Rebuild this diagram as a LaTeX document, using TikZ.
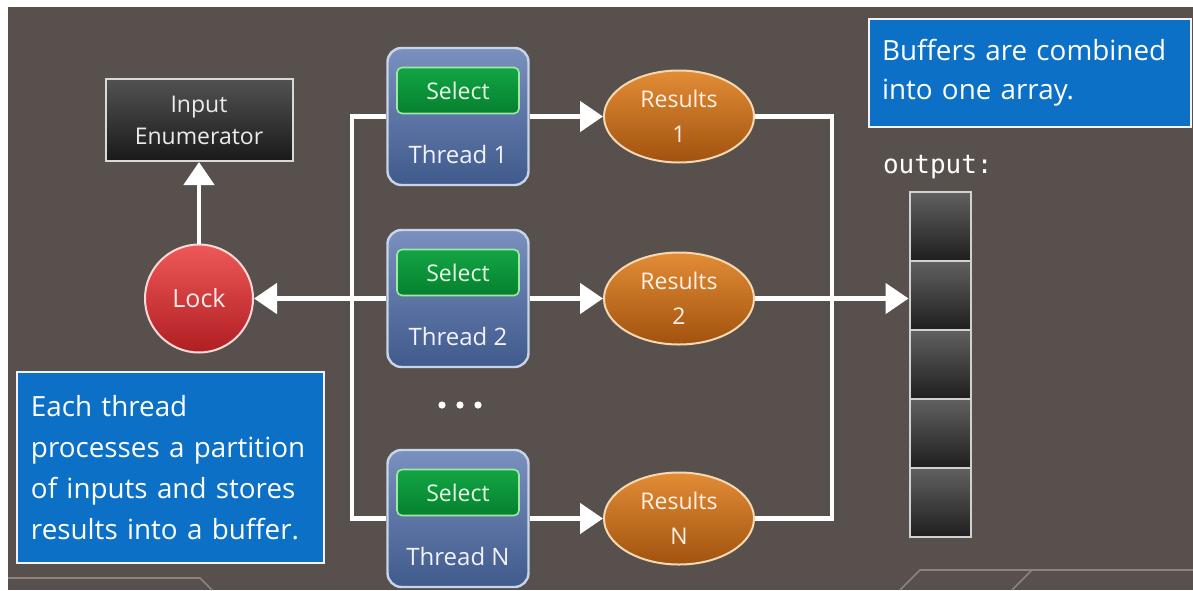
\documentclass[tikz,border=0pt]{standalone}
\usepackage{fontspec}
\setmainfont{Open Sans}
\setmonofont{DejaVu Sans Mono}
\usetikzlibrary{arrows.meta,shapes.geometric}

\definecolor{slate}{HTML}{58504C}
\definecolor{trimgray}{HTML}{8C837E}
\definecolor{thrtop}{HTML}{7A90BE}
\definecolor{thrbot}{HTML}{3F5A8C}
\definecolor{thredge}{HTML}{C8D4E8}
\definecolor{seltop}{HTML}{12A544}
\definecolor{selbot}{HTML}{06802E}
\definecolor{seledge}{HTML}{A0E8A8}
\definecolor{restop}{HTML}{E28C36}
\definecolor{resbot}{HTML}{A1520E}
\definecolor{resedge}{HTML}{F5D8B0}
\definecolor{locktop}{HTML}{EE5858}
\definecolor{lockbot}{HTML}{B01E22}
\definecolor{noteblue}{HTML}{0B70C6}

\tikzset{
	wire/.style={draw=white, line width=2.4pt},
	wirehead/.style={-{Triangle[length=11.5pt,width=15pt]}},
	trimline/.style={draw=trimgray, line width=.8pt},
	enum/.style={rectangle, minimum width=93.5pt, minimum height=41pt, top color=black!68, bottom color=black!90, draw=black!15, line width=1pt, text=black!8, align=center, font=\fontsize{11.5}{16}\selectfont},
	lock/.style={circle, minimum size=54pt, top color=locktop, bottom color=lockbot, draw=red!15, line width=1pt, text=red!8, font=\fontsize{12.5}{14}\selectfont},
	threadbox/.style={rectangle, rounded corners=7pt, minimum width=70.5pt, minimum height=68.5pt, top color=thrtop, bottom color=thrbot, draw=thredge, line width=1.2pt},
	select/.style={rectangle, rounded corners=2.5pt, minimum width=61pt, minimum height=23pt, top color=seltop, bottom color=selbot, draw=seledge, line width=.8pt, text=green!10, font=\fontsize{11.5}{13}\selectfont},
	tlabel/.style={text=blue!5, font=\fontsize{12}{14}\selectfont},
	results/.style={ellipse, minimum width=75pt, minimum height=46pt, inner sep=0pt, top color=restop, bottom color=resbot, draw=resedge, line width=1pt, text=orange!10, align=center, font=\fontsize{11.5}{17.5}\selectfont},
	cell/.style={rectangle, minimum width=30.5pt, minimum height=34.5pt, top color=black!62, bottom color=black!88, draw=black!18, line width=1pt},
	note/.style={rectangle, fill=noteblue, draw=blue!5, line width=1pt, text=white, align=left},
}

\begin{document}
\begin{tikzpicture}[x=.5pt,y=-.5pt]
	\fill [white] (0,0) rectangle (1193,590);
	\useasboundingbox (0,0) rectangle (1193,590);
	\fill [slate] (8,7) rectangle (1193,590);

	% slide trim
	\draw [trimline] (8,578) -- (200,578) -- (212,590);
	\draw [trimline] (1193,570) -- (920,570) -- (900,590);
	\draw [trimline] (1032,570) -- (1012,590);

	\node [enum] (enum) at (199,120) {Input\\Enumerator};
	\node [lock] (lock) at (199,298.5) {Lock};

	\foreach \n/\y in {1/116.5, 2/298.5, N/518.5} {
		\node [threadbox] (t\n) at (458,\y) {};
		\node [select] (s\n) at (458,\y-26) {Select};
		\node [tlabel] (l\n) at (458,\y+38) {Thread \n};
		\node [results] (r\n) at (679,\y) {Results\\\n};
		\draw [wire, wirehead] (t\n) -- (r\n);
	}
	\foreach \x in {442, 460, 478} {
		\fill [white] (\x,405) circle (1.8pt);
	}

	\coordinate (bus) at (352,298.5);
	\draw [wire] (t1.west) -| (bus) |- (tN.west);
	\draw [wire, wirehead] (t2.west) -- (lock);
	\draw [wire, wirehead] (lock) -- (enum);

	\node [font=\ttfamily\fontsize{13}{15}\selectfont, text=white, anchor=west] (outlbl) at (876,167) {output:};
	\foreach \i in {1, ..., 5} {
		\node [cell] (c\i) at (940,{157.5+69*\i}) {};
	}
	\coordinate (merge) at (832,298.5);
	\draw [wire] (r1.east) -| (merge) |- (rN.east);
	\draw [wire, wirehead] (r2) -- (r2 -| c2.west);

	\node [note, minimum width=161pt, minimum height=54pt, text width=148pt, inner xsep=6.5pt, font=\fontsize{13.9}{19.5}\selectfont] (combnote) at (1030,73) {Buffers are combined\\into one array.};
	\node [note, minimum width=153.5pt, minimum height=95.5pt, text width=139.5pt, inner xsep=7pt, font=\fontsize{13.9}{20.5}\selectfont] (partnote) at (170.5,467.5) {Each thread\\processes a partition\\of inputs and stores\\results into a buffer.};
\end{tikzpicture}
\end{document}
